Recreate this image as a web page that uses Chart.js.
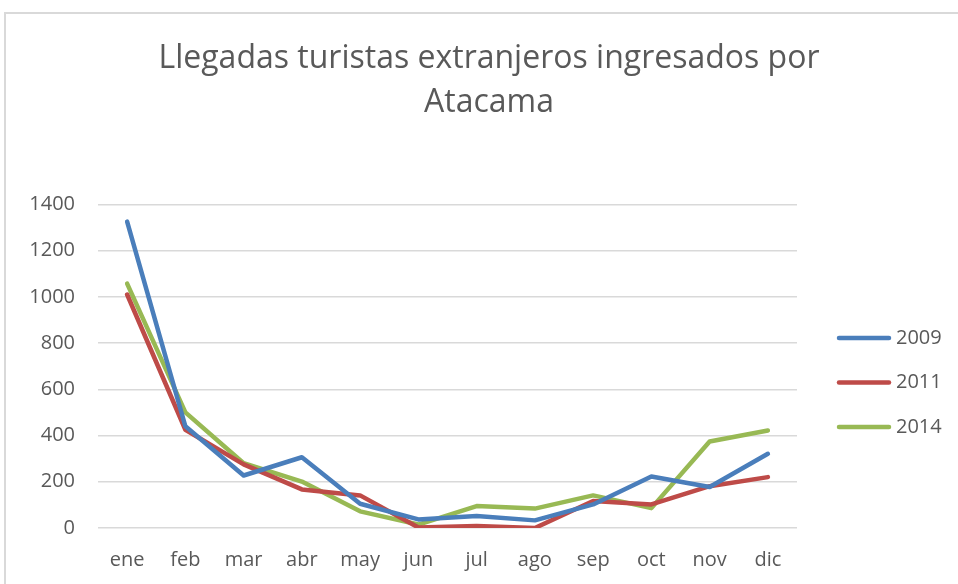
<!DOCTYPE html>
<html>
<head>
<meta charset="utf-8">
<title>Llegadas turistas extranjeros</title>
<script src="https://cdn.jsdelivr.net/npm/chart.js@4"></script>
<style>
  html, body { margin: 0; padding: 0; background: #fff; overflow: hidden; }
  #frame { position: absolute; left: 4px; top: 12px; width: 1100px; height: 800px; border: 2px solid #d9d9d9; box-sizing: border-box; }
  #wrap { position: absolute; left: 0; top: 0; width: 958px; height: 584px; }
</style>
</head>
<body>
<div id="frame"></div>
<div id="wrap"><canvas id="touristChart" width="958" height="584"></canvas></div>
<script>
const categories = ['ene', 'feb', 'mar', 'abr', 'may', 'jun', 'jul', 'ago', 'sep', 'oct', 'nov', 'dic'];
const years = ['2009', '2011', '2014'];
const values2009 = [1325, 440, 227, 306, 105, 37, 52, 33, 102, 223, 177, 321];
const values2011 = [1010, 425, 275, 167, 141, 2, 9, 0, 117, 102, 181, 220];
const values2014 = [1057, 500, 280, 201, 72, 15, 95, 84, 141, 86, 374, 422];
const yTicks = [0, 200, 400, 600, 800, 1000, 1200, 1400];

const colors = ['#4a7ebb', '#be4b48', '#98b954'];
const textColor = '#595959';
const fontFamily = '"Open Sans", sans-serif';

// Excel style legend: short thick line + label, drawn at the right
const sideLegend = {
    id: 'sideLegend',
    afterDraw(chart) {
        const ctx = chart.ctx;
        ctx.save();
        ctx.font = '20px ' + fontFamily;
        ctx.textBaseline = 'middle';
        chart.data.datasets.forEach((ds, i) => {
            const y = 338 + i * 44.5;
            ctx.strokeStyle = ds.borderColor;
            ctx.lineWidth = 4.5;
            ctx.lineCap = 'round';
            ctx.beginPath();
            ctx.moveTo(839, y);
            ctx.lineTo(889, y);
            ctx.stroke();
            ctx.fillStyle = textColor;
            ctx.fillText(ds.label, 896, y);
        });
        ctx.restore();
    }
};

const seriesData = [values2009, values2011, values2014];

const ctx = document.getElementById('touristChart').getContext('2d');
const touristChart = new Chart(ctx, {
    type: 'line',
    data: {
        labels: categories,
        datasets: years.map((y, i) => ({
            label: y,
            data: seriesData[i],
            borderColor: colors[i],
            backgroundColor: colors[i],
            borderWidth: 4.5,
            borderCapStyle: 'round',
            borderJoinStyle: 'round',
            pointRadius: 0,
            tension: 0,
            fill: false
        }))
    },
    options: {
        responsive: false,
        animation: false,
        layout: { padding: { left: 20, right: 0, top: 0, bottom: 0 } },
        plugins: {
            legend: { display: false },
            tooltip: { enabled: false },
            title: {
                display: true,
                text: ['Llegadas turistas extranjeros ingresados por', 'Atacama'],
                color: textColor,
                font: { family: fontFamily, size: 32, weight: 'normal', lineHeight: 1.38 },
                padding: { top: 37, bottom: 79 }
            }
        },
        scales: {
            x: {
                offset: true,
                afterFit: (axis) => { axis.height = 56; },
                grid: { display: false, drawTicks: false },
                border: { display: false },
                ticks: { color: textColor, font: { family: fontFamily, size: 20 }, padding: 20, maxRotation: 0 }
            },
            y: {
                min: 0,
                max: 1400,
                afterBuildTicks: (axis) => { axis.ticks = yTicks.map(v => ({ value: v })); },
                afterFit: (axis) => { axis.width = 78; },
                grid: { color: '#d9d9d9', lineWidth: 1.5, drawTicks: false },
                border: { display: false },
                ticks: {
                    color: textColor,
                    font: { family: fontFamily, size: 20 },
                    padding: 23,
                    callback: (v) => String(v)
                }
            },
            y2: {
                position: 'right',
                display: true,
                afterFit: (axis) => { axis.width = 161; },
                grid: { display: false },
                border: { display: false },
                ticks: { display: false }
            }
        }
    },
    plugins: [sideLegend]
});
</script>
</body>
</html>
